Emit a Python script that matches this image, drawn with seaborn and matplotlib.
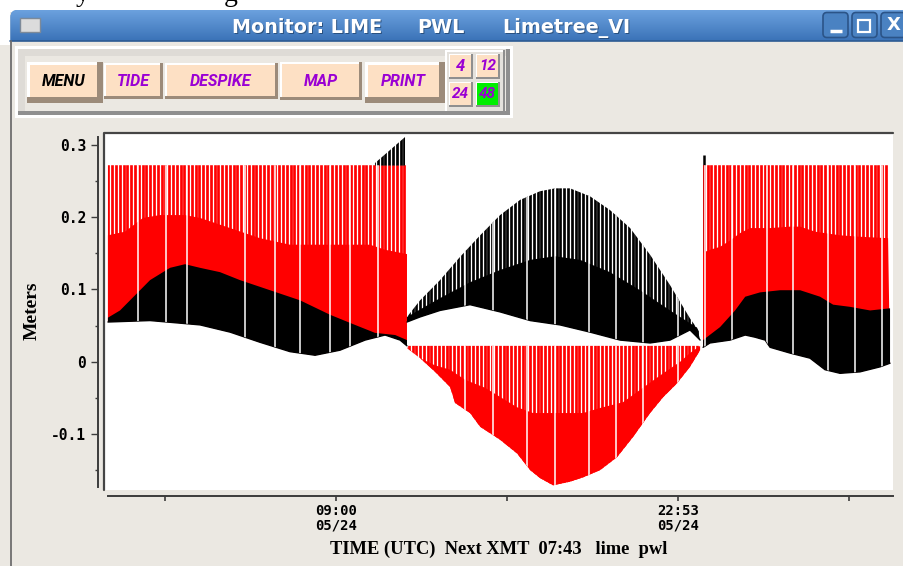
import numpy as np
import matplotlib
matplotlib.use("Agg")
import matplotlib.pyplot as plt
import seaborn as sns
from matplotlib.patches import Polygon, Rectangle, FancyBboxPatch
from matplotlib.lines import Line2D

# ---------------------------------------------------------------- data ----
# time axis: hours since 00:00 05/24 UTC, water level in metres
x_min, x_max = -0.42, 31.61
y_min, y_max = -0.1775, 0.3166
tick_hours = [2.06, 9.0, 15.94, 22.88, 29.83]
tick_labels = ["", "09:00\n05/24", "", "22:53\n05/24", ""]
y_ticks = [-0.1, 0.0, 0.1, 0.2, 0.3]
y_tick_labels = ["-0.1", "0", "0.1", "0.2", "0.3"]
y_minor = [-0.15, -0.05, 0.05, 0.15, 0.25]

spike_step = 0.154      # sample interval of the plotted records (h)
clip_level = 0.272      # residual display clip level (m)

# period 1
p1_start, p1_end = -0.24, 11.88
p1_lo_t = [-0.26, 1.45, 3.48, 4.70, 5.91, 7.13, 8.15, 9.16, 10.18, 10.99, 11.60, 11.88]
p1_lo = [0.055, 0.057, 0.051, 0.041, 0.027, 0.014, 0.009, 0.016, 0.030, 0.037, 0.030, 0.022]
p1_hi_t = [-0.26, 0.23, 0.84, 1.45, 2.26, 2.87, 3.48, 4.29, 5.10, 6.32, 7.54, 8.76, 9.77, 10.58, 11.40, 11.88]
p1_hi = [0.061, 0.071, 0.092, 0.113, 0.130, 0.135, 0.130, 0.124, 0.113, 0.099, 0.085, 0.065, 0.051, 0.040, 0.037, 0.030]
p1_red_t = [-0.26, 0.43, 1.16, 1.85, 2.87, 3.48, 4.70, 5.91, 7.13, 8.35, 9.37, 10.38, 10.99, 11.88]
p1_red = [0.175, 0.180, 0.199, 0.203, 0.203, 0.199, 0.185, 0.171, 0.162, 0.162, 0.162, 0.162, 0.155, 0.149]
ramp_t = [10.58, 11.80]
ramp_top = [0.275, 0.311]
p1_gaps = [0.96, 2.10, 2.95, 5.31, 6.52, 7.54, 8.76, 9.57, 10.71]

# period 2
p2_start, p2_end = 11.95, 23.78
p2_lo_t = [11.88, 12.41, 13.22, 14.44, 15.66, 16.88, 18.09, 19.31, 20.53, 21.75, 22.56, 23.37, 23.78]
p2_lo = [0.055, 0.062, 0.071, 0.079, 0.069, 0.057, 0.051, 0.041, 0.030, 0.026, 0.030, 0.044, 0.030]
p2_mid_t = [11.88, 13.22, 14.44, 15.66, 16.88, 17.89, 18.91, 20.12, 21.34, 22.56, 23.66]
p2_mid = [0.062, 0.088, 0.110, 0.127, 0.141, 0.146, 0.141, 0.124, 0.099, 0.071, 0.047]
p2_top_t = [11.88, 12.41, 13.22, 14.03, 14.85, 15.66, 16.47, 17.28, 17.89, 18.50, 19.31,
            20.12, 20.94, 21.75, 22.56, 23.37, 23.78]
p2_top = [0.062, 0.085, 0.113, 0.145, 0.175, 0.203, 0.224, 0.236, 0.240, 0.240, 0.229,
          0.210, 0.185, 0.148, 0.106, 0.060, 0.040]
p2_level = 0.022
p2_rmid_t = [11.88, 12.41, 13.02, 13.63, 14.24, 15.05, 16.35, 17.00, 19.03, 19.72, 20.65,
             21.46, 22.28, 22.97, 23.37, 23.78]
p2_rmid = [0.020, 0.005, -0.005, -0.011, -0.025, -0.036, -0.063, -0.071, -0.071, -0.064, -0.056,
           -0.036, -0.016, 0.000, 0.012, 0.022]
p2_rbot_t = [11.88, 12.41, 13.02, 13.63, 13.83, 14.44, 14.85, 15.66, 16.35, 16.88, 17.28,
             17.81, 18.50, 19.03, 19.72, 20.41, 21.06, 21.75, 22.28, 22.84, 23.37, 23.78]
p2_rbot = [0.019, 0.005, -0.014, -0.035, -0.057, -0.071, -0.090, -0.108, -0.127, -0.150, -0.161,
           -0.171, -0.166, -0.160, -0.150, -0.132, -0.104, -0.071, -0.049, -0.030, -0.007, 0.016]
p2_gaps = [14.24, 15.37, 16.75, 17.89, 19.27, 20.37, 21.46, 22.88]

# period 3
p3_start, p3_end = 23.93, 31.42
p3_lo_t = [23.90, 24.18, 25.00, 25.61, 26.01, 26.42, 26.62, 27.43, 28.24, 28.85, 29.46, 30.27, 31.09, 31.49]
p3_lo = [0.020, 0.026, 0.030, 0.037, 0.034, 0.030, 0.020, 0.012, 0.005, -0.011, -0.016, -0.014, -0.007, -0.002]
p3_hi_t = [23.90, 24.59, 25.20, 25.61, 26.21, 27.03, 27.84, 28.65, 29.18, 29.87, 30.68, 31.49]
p3_hi = [0.030, 0.048, 0.071, 0.090, 0.096, 0.099, 0.099, 0.090, 0.079, 0.076, 0.071, 0.074]
p3_red_t = [23.90, 24.18, 24.59, 25.00, 25.40, 25.81, 26.62, 27.43, 27.84, 28.45, 29.46, 30.27, 31.41]
p3_red = [0.151, 0.155, 0.159, 0.168, 0.178, 0.185, 0.185, 0.187, 0.187, 0.180, 0.175, 0.173, 0.171]
p3_gaps = [23.98, 25.08, 26.50, 27.55, 28.97, 30.07, 31.17]
jump_t, jump_base, jump_top = 23.93, 0.15, 0.286

# --------------------------------------------------------------- style ----
sns.set_theme(style="white")
plt.rcParams["font.family"] = ["DejaVu Sans"]

RED = "#ff0000"
BLACK = "#000000"
WIN_BG = "#ebe8e2"
PEACH = "#fde0c4"
PURPLE = "#9a00d4"
AXIS_GREY = "#3c3c3c"
SPIKE_LW = 1.95
GAP_LW = 1.1

fig = plt.figure(figsize=(9.04, 5.66), dpi=100, facecolor=WIN_BG)

# ------------------------------------------------- window decoration ----
ui = fig.add_axes([0, 0, 1, 1], zorder=0)
ui.set_axis_off()

ui.add_patch(Rectangle((0, 0), 904, 12, fc="white", ec="none"))
ui.add_patch(Rectangle((0, 0), 10, 45, fc="white", ec="none"))
ui.text(76, 1, "y", fontsize=20, family="Liberation Serif", va="baseline", color="black")
ui.text(224, 1, "g", fontsize=20, family="Liberation Serif", va="baseline", color="black")

bar = FancyBboxPatch((10.5, 10), 900, 40, boxstyle="round,pad=0,rounding_size=7",
                     fc="#4a84c6", ec="none")
ui.add_patch(bar)
shade = np.linspace(0, 1, 32)[:, None, None]
c_top = np.array([0.42, 0.63, 0.87])
c_bot = np.array([0.23, 0.45, 0.72])
im = ui.imshow(c_top + (c_bot - c_top) * shade, extent=(10, 910, 41, 10), aspect="auto",
               origin="upper", interpolation="bilinear", zorder=1)
im.set_clip_path(bar)
ui.add_patch(Rectangle((10, 41), 900, 530, fc=WIN_BG, ec="none", zorder=2))
ui.add_line(Line2D([10, 904], [41, 41], color="#2d5b92", lw=1.2, zorder=3))
ui.add_line(Line2D([11, 11], [41, 566], color="#6e6e6e", lw=1.3, zorder=3))

ui.add_patch(Rectangle((20, 18), 20, 14, fc="#dcdcdc", ec="#7d8a99", lw=1, zorder=3))
for txt, x in [("Monitor: LIME", 232), ("PWL", 417), ("Limetree_VI", 502)]:
    ui.text(x + 1, 34, txt, color="#1f3f66", alpha=0.7, fontsize=13.8, fontweight="bold",
            va="baseline", ha="left", zorder=3)
    ui.text(x, 33, txt, color="white", fontsize=13.8, fontweight="bold",
            va="baseline", ha="left", zorder=4)
for bx in (823, 852, 881):
    ui.add_patch(FancyBboxPatch((bx, 12.5), 25, 25, boxstyle="round,pad=0,rounding_size=4",
                                fc="#4a82c2", ec="#2b5488", lw=1.2, zorder=3))
ui.add_line(Line2D([830, 842], [31, 31], color="white", lw=2.5, solid_capstyle="butt", zorder=4))
ui.add_patch(Rectangle((858.5, 19.5), 12, 12, fc="none", ec="white", lw=1.6, zorder=4))
ui.text(893.5, 25.5, "X", color="white", fontsize=13, fontweight="bold",
        ha="center", va="center", zorder=4)


def bevel(x0, y0, x1, y1, face, hi, lo, a, b):
    ui.add_patch(Rectangle((x0, y0), x1 - x0, y1 - y0, fc=lo, ec="none", zorder=3))
    ui.add_patch(Rectangle((x0, y0), x1 - x0 - b, y1 - y0 - b, fc=hi, ec="none", zorder=3))
    ui.add_patch(Rectangle((x0 + a, y0 + a), x1 - x0 - a - b, y1 - y0 - a - b,
                           fc=face, ec="none", zorder=3))


# toolbar frame
bevel(15, 46, 513, 118, "white", "white", "white", 2, 2)
bevel(18, 49, 510, 115, WIN_BG, "#dedbd6", "#8f8f8f", 7, 4)

BTN_FONT = dict(family=["Roboto", "DejaVu Sans"], fontweight="bold", fontstyle="italic",
                ha="center", va="center", zorder=4)
buttons = [
    (27, 62, 103, 103, 3, 6, "MENU", "black"),
    (104, 63, 163, 99, 2, 3, "TIDE", PURPLE),
    (165, 63, 278, 99, 2, 3, "DESPIKE", PURPLE),
    (280, 62, 362, 100, 2, 3, "MAP", PURPLE),
    (365, 62, 445, 103, 3, 6, "PRINT", PURPLE),
]
for x0, y0, x1, y1, a, b, label, col in buttons:
    bevel(x0, y0, x1, y1, PEACH, "white", "#9c8b7a", a, b)
    ui.text((x0 + a + x1 - b) / 2, (y0 + a + y1 - b) / 2 + 0.5, label, color=col,
            fontsize=11.5, **BTN_FONT)

bevel(445, 50, 505, 113, "#e4e1dc", "white", "#8f8f8f", 2, 2)
span_buttons = [(449, 54, "4", PEACH), (476, 54, "12", PEACH),
                (449, 82, "24", PEACH), (476, 82, "48", "#00ee00")]
for x0, y0, label, face in span_buttons:
    bevel(x0, y0, x0 + 24, y0 + 25, face, "white", "#8f8f8f", 1, 2)
    ui.text(x0 + 11.5, y0 + 12.5, label, color=PURPLE,
            fontsize=12 if len(label) == 1 else 11, **BTN_FONT)

ui.set_xlim(0, 904)
ui.set_ylim(566, 0)

# ---------------------------------------------------------- data plot ----
ax = fig.add_axes([104 / 904, 1 - 490 / 566, 789 / 904, 357 / 566], zorder=2)
ax.set_facecolor("white")


def region(lo_t, lo_y, hi_t, hi_y):
    return np.r_[lo_t, hi_t[::-1]], np.r_[lo_y, hi_y[::-1]]


def band(lo_t, lo_y, hi_t, hi_y, color, z):
    xs, ys = region(lo_t, lo_y, hi_t, hi_y)
    ax.fill(xs, ys, color=color, lw=0, zorder=z)


def spikes(t, lo_t, lo_y, hi_t, hi_y, color, z, lw=SPIKE_LW):
    xs, ys = region(lo_t, lo_y, hi_t, hi_y)
    clip = Polygon(np.column_stack([xs, ys]), closed=True, transform=ax.transData)
    coll = ax.vlines(t, y_min, y_max, colors=color, lw=lw, zorder=z)
    coll.set_clip_path(clip)


t1 = np.arange(p1_start, p1_end, spike_step)
t2 = np.arange(p2_start, p2_end, spike_step)
t3 = np.arange(p3_start, p3_end, spike_step)
flat1 = ([p1_lo_t[0], p1_lo_t[-1]], [clip_level, clip_level])
flat2 = ([p2_rbot_t[0], p2_rbot_t[-1]], [p2_level, p2_level])
flat3 = ([p3_lo_t[0], p3_lo_t[-1]], [clip_level, clip_level])

# period 1: residual spikes to clip level, solid residual band, gauge band
spikes(t1, p1_lo_t, p1_lo, *flat1, RED, 2)
band(p1_lo_t, p1_lo, p1_red_t, p1_red, RED, 3)
band(p1_lo_t, p1_lo, p1_hi_t, p1_hi, BLACK, 5)
spikes(t1, ramp_t, [clip_level - 0.0005] * 2, ramp_t, ramp_top, BLACK, 5)
spikes(p1_gaps, p1_lo_t, p1_lo, *flat1, "white", 6, GAP_LW)

# period 2
spikes(t2, p2_lo_t, p2_lo, p2_top_t, p2_top, BLACK, 4)
band(p2_lo_t, p2_lo, p2_mid_t, p2_mid, BLACK, 5)
spikes(t2, p2_rbot_t, p2_rbot, *flat2, RED, 2)
band(p2_rbot_t, p2_rbot, p2_rmid_t, p2_rmid, RED, 3)
spikes(p2_gaps, p2_lo_t, p2_lo, p2_top_t, p2_top, "white", 6, GAP_LW)
spikes(p2_gaps, p2_rbot_t, p2_rbot, *flat2, "white", 6, GAP_LW)

# period 3
ax.vlines([jump_t], jump_base, jump_top, colors=BLACK, lw=1.8, zorder=1.5)
spikes(t3, p3_lo_t, p3_lo, *flat3, RED, 2)
band(p3_lo_t, p3_lo, p3_red_t, p3_red, RED, 3)
band(p3_lo_t, p3_lo, p3_hi_t, p3_hi, BLACK, 5)
spikes(p3_gaps, p3_lo_t, p3_lo, *flat3, "white", 6, GAP_LW)

# gauge band outlines
for tt, yy in [(p1_lo_t, p1_lo), (p2_lo_t, p2_lo), (p3_lo_t, p3_lo)]:
    sns.lineplot(x=tt, y=yy, color=BLACK, lw=1.0, ax=ax, zorder=5, legend=False)

# ----------------------------------------------------------------- axes ----
ax.set_xlim(x_min, x_max)
ax.set_ylim(y_min, y_max)
for side in ("top", "right"):
    ax.spines[side].set_visible(False)
for side in ("left", "bottom"):
    ax.spines[side].set_position(("outward", 4.3))
    ax.spines[side].set_color(AXIS_GREY)
    ax.spines[side].set_linewidth(1.4)
ax.spines["left"].set_bounds(-0.174, 0.311)
ax.spines["bottom"].set_bounds(-0.26, x_max)

ax.add_line(Line2D([0, 0, 1], [0, 1, 1], transform=ax.transAxes, color="#454545",
                   lw=1.6, clip_on=False, zorder=10))

ax.set_yticks(y_ticks)
ax.set_yticklabels(y_tick_labels)
ax.set_yticks(y_minor, minor=True)
ax.set_xticks(tick_hours)
ax.set_xticklabels(tick_labels)
ax.tick_params(axis="y", which="major", direction="out", length=5, width=1.0,
               color=AXIS_GREY, pad=3.5, labelsize=10.5, left=True, labelcolor="black")
ax.tick_params(axis="y", which="minor", direction="out", length=2.5, width=1.0,
               color=AXIS_GREY, left=True)
ax.tick_params(axis="x", which="major", direction="out", length=3.5, width=1.2,
               color=AXIS_GREY, pad=2.5, labelsize=10, bottom=True, labelcolor="black")
for lab in ax.get_yticklabels() + ax.get_xticklabels():
    lab.set_fontfamily("DejaVu Sans Mono")
    lab.set_fontweight("bold")
for lab in ax.get_xticklabels():
    lab.set_linespacing(1.0)

ax.set_ylabel("Meters", fontsize=14, fontweight="bold", family="Liberation Serif", color="black")
ax.yaxis.set_label_coords(-0.080, 0.501)
ax.set_xlabel("TIME (UTC)  Next XMT  07:43   lime  pwl", fontsize=13.3, fontweight="bold",
              family="Liberation Serif", color="black")
ax.xaxis.set_label_coords(0.5006, -0.142)

fig.savefig("out.png", dpi=100, facecolor=WIN_BG)
